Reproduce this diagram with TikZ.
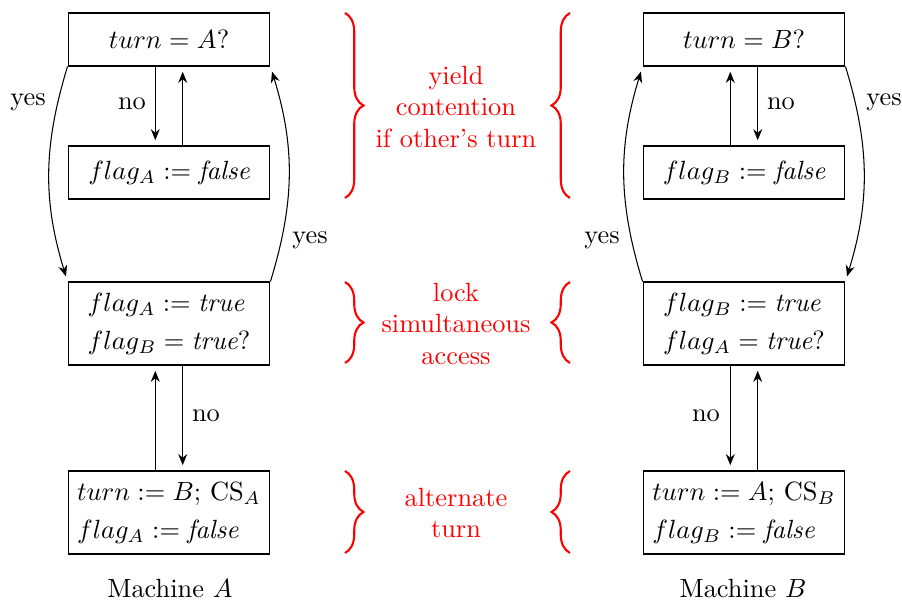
\documentclass[tikz,border=0pt]{standalone}
\usetikzlibrary{decorations.pathreplacing,arrows.meta}
\begin{document}
\begin{tikzpicture}[x=0.3794pt,y=-0.3794pt,
  box/.style={draw, inner sep=0pt, minimum width=76.6pt, minimum height=20.1pt},
  tallbox/.style={box, minimum height=31.5pt, align=left},
  arr/.style={-{Stealth[length=4.2pt,width=3.4pt]}, shorten >=2pt},
  lab/.style={inner sep=0pt},
  note/.style={red, align=center, inner sep=0pt},
  brc/.style={red, thick, decorate, decoration={brace, amplitude=7pt}}]
\useasboundingbox (0,0) rectangle (902,601);

% Machine A
\node[box] (A1) at (169,39.5) {$turn = A?$};
\node[box] (A2) at (169,172.5) {$flag_A := \textit{false}$};
\node[tallbox] (A3) at (169,323.5) {$flag_A := \textit{true}$\\[2.4pt]$flag_B = \textit{true}?$};
\node[tallbox] (A4) at (169,512.5) {$turn := B$; CS$_A$\\[2.4pt]$flag_A := \textit{false}$};
\node (MA) at (170,589) {Machine $A$};

% Machine B
\node[box] (B1) at (744,39.5) {$turn = B?$};
\node[box] (B2) at (744,172.5) {$flag_B := \textit{false}$};
\node[tallbox] (B3) at (744,323.5) {$flag_B := \textit{true}$\\[2.4pt]$flag_A = \textit{true}?$};
\node[tallbox] (B4) at (744,512.5) {$turn := A$; CS$_B$\\[2.4pt]$flag_B := \textit{false}$};
\node (MB) at (743,589) {Machine $B$};

% arrows A
\draw[arr] ([xshift=-5.2pt]A1.south) -- ([xshift=-5.2pt]A2.north);
\draw[arr] ([xshift=5.2pt]A2.north) -- ([xshift=5.2pt]A1.south);
\draw[arr] ([xshift=5.2pt]A3.south) -- ([xshift=5.2pt]A4.north);
\draw[arr] ([xshift=-5.2pt]A4.north) -- ([xshift=-5.2pt]A3.south);
\draw[arr] (A1.south west) to[bend right=17] (A3.north west);
\draw[arr] (A3.north east) to[bend right=17] (A1.south east);

% arrows B
\draw[arr] ([xshift=5.2pt]B1.south) -- ([xshift=5.2pt]B2.north);
\draw[arr] ([xshift=-5.2pt]B2.north) -- ([xshift=-5.2pt]B1.south);
\draw[arr] ([xshift=-5.2pt]B3.south) -- ([xshift=-5.2pt]B4.north);
\draw[arr] ([xshift=5.2pt]B4.north) -- ([xshift=5.2pt]B3.south);
\draw[arr] (B1.south east) to[bend left=17] (B3.north east);
\draw[arr] (B3.north west) to[bend left=17] (B1.south west);

% labels
\node[lab] (yA1) at (28,102) {yes};
\node[lab] (nA1) at (132,104) {no};
\node[lab] (yA2) at (310,240) {yes};
\node[lab] (nA2) at (206,416) {no};
\node[lab] (nB1) at (781,104) {no};
\node[lab] (yB1) at (884,102) {yes};
\node[lab] (yB2) at (602,240) {yes};
\node[lab] (nB2) at (706,416) {no};

% braces
\draw[brc] (345,13) -- (345,198);
\draw[brc] (345,282) -- (345,363);
\draw[brc] (345,471) -- (345,553);
\draw[brc] (570,198) -- (570,13);
\draw[brc] (570,363) -- (570,282);
\draw[brc] (570,553) -- (570,471);

% notes
\node[note] (n1) at (456,107) {yield\\contention\\if other’s turn};
\node[note] (n2) at (456,324) {lock\\simultaneous\\access};
\node[note] (n3) at (456,513) {alternate\\turn};
\end{tikzpicture}
\end{document}
